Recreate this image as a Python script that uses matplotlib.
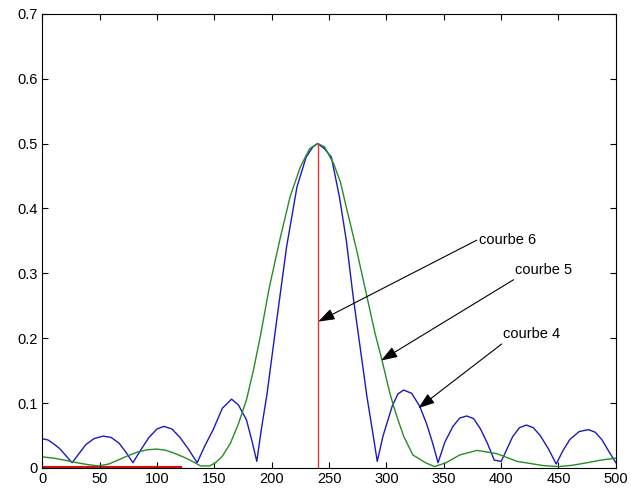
import numpy as np
import matplotlib
matplotlib.use("Agg")
import matplotlib.pyplot as plt

plt.rcParams['font.family'] = ['Liberation Sans', 'DejaVu Sans']

# courbe 4 (bleu)
x_bleu = [0, 5, 10, 15, 20, 26, 32, 38, 45, 53, 60, 67, 73, 79, 86, 93, 100, 106,
          113, 120, 127, 135, 142, 149, 157, 165, 171, 178, 183, 187, 191, 196, 204,
          213, 222, 230, 236, 240, 246, 252, 259, 265, 271, 277, 283, 289, 292, 297,
          305, 310, 315, 322, 329, 335, 340, 345, 351, 358, 364, 370, 376, 382, 388,
          394, 400, 404, 410, 416, 422, 428, 434, 441, 448, 454, 460, 468, 476, 482,
          488, 494, 500]
y_bleu = [0.045, 0.043, 0.037, 0.030, 0.020, 0.008, 0.022, 0.036, 0.045, 0.049, 0.047,
          0.038, 0.024, 0.008, 0.028, 0.047, 0.060, 0.064, 0.060, 0.047, 0.030, 0.008,
          0.035, 0.059, 0.092, 0.106, 0.097, 0.074, 0.040, 0.010, 0.060, 0.115, 0.223,
          0.341, 0.433, 0.479, 0.495, 0.500, 0.492, 0.479, 0.418, 0.351, 0.264, 0.187,
          0.110, 0.044, 0.010, 0.049, 0.095, 0.114, 0.120, 0.115, 0.095, 0.068, 0.040,
          0.008, 0.040, 0.064, 0.077, 0.080, 0.076, 0.060, 0.038, 0.012, 0.010, 0.025,
          0.048, 0.062, 0.066, 0.062, 0.050, 0.030, 0.006, 0.027, 0.044, 0.056, 0.059,
          0.055, 0.043, 0.025, 0.008]

# courbe 5 (vert)
x_vert = [0, 10, 22, 30, 40, 49, 58, 66, 75, 84, 92, 100, 108, 116, 124, 132, 138,
          146, 151, 157, 164, 171, 178, 184, 190, 198, 207, 216, 225, 233, 240, 246,
          254, 260, 265, 274, 283, 290, 296, 303, 308, 315, 323, 334, 342, 352, 364,
          379, 396, 414, 437, 450, 462, 475, 487, 500]
y_vert = [0.017, 0.015, 0.011, 0.008, 0.005, 0.003, 0.006, 0.012, 0.019, 0.025,
          0.028, 0.029, 0.027, 0.022, 0.016, 0.009, 0.003, 0.003, 0.008, 0.018, 0.038,
          0.068, 0.105, 0.150, 0.202, 0.279, 0.351, 0.418, 0.464, 0.492, 0.500, 0.495,
          0.469, 0.440, 0.402, 0.336, 0.264, 0.208, 0.167, 0.115, 0.085, 0.049, 0.020,
          0.008, 0.002, 0.008, 0.020, 0.027, 0.022, 0.010, 0.0035, 0.002, 0.004, 0.008,
          0.012, 0.015]

# courbe 6 (rouge)
x_rouge = [240, 240]
y_rouge = [0, 0.5]
x_rouge_bas = [0, 120]
y_rouge_bas = [0, 0]

x_ticks = [0, 50, 100, 150, 200, 250, 300, 350, 400, 450, 500]
y_ticks = [0, 0.1, 0.2, 0.3, 0.4, 0.5, 0.6, 0.7]
y_labels = ['0', '0.1', '0.2', '0.3', '0.4', '0.5', '0.6', '0.7']

fig = plt.figure(figsize=(6.31, 4.92), dpi=100)
ax = fig.add_axes([0.067, 0.049, 0.909, 0.923])

ax.plot(x_bleu, y_bleu, color=(0.1, 0.1, 0.75), lw=1.0)
ax.plot(x_vert, y_vert, color=(0.15, 0.55, 0.15), lw=1.0)
ax.plot(x_rouge, y_rouge, color=(0.9, 0.2, 0.2), lw=1.0)
ax.plot(x_rouge_bas, y_rouge_bas, color=(0.85, 0.05, 0.05), lw=3.0, zorder=1)

ax.set_xlim(0, 500)
ax.set_ylim(0, 0.7)
ax.set_xticks(x_ticks)
ax.set_yticks(y_ticks)
ax.set_yticklabels(y_labels)
ax.tick_params(direction='in', top=True, right=True, length=4, width=0.8,
               labelsize=10.5, pad=3)
for s in ax.spines.values():
    s.set_linewidth(0.8)

# flèches avec texte
fleche = dict(arrowstyle='-|>,head_length=1.0,head_width=0.35', color='black',
              lw=0.8, shrinkA=0, shrinkB=0)
ax.annotate('', xy=(240.6, 0.2255), xytext=(378.7, 0.351), arrowprops=fleche)
ax.annotate('', xy=(295.3, 0.1655), xytext=(410.8, 0.290), arrowprops=fleche)
ax.annotate('', xy=(327.8, 0.092), xytext=(400.5, 0.191), arrowprops=fleche)
ax.text(380.5, 0.351, 'courbe 6', fontsize=10.5, va='center', ha='left')
ax.text(412.5, 0.305, 'courbe 5', fontsize=10.5, va='center', ha='left')
ax.text(401.8, 0.207, 'courbe 4', fontsize=10.5, va='center', ha='left')

fig.savefig('out.png', dpi=100)
